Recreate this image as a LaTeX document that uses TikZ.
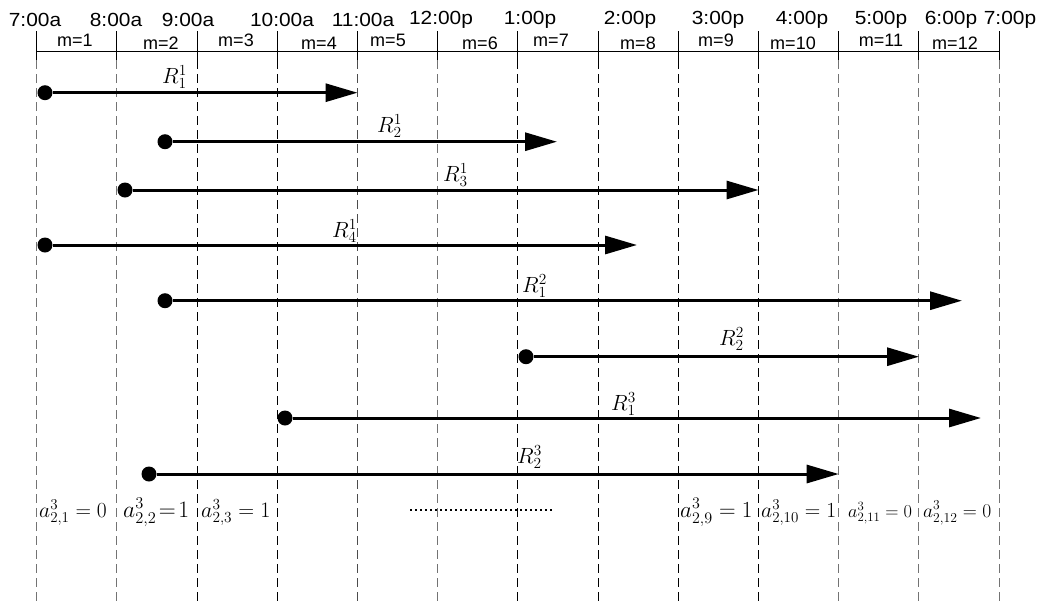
\RequirePackage{fix-cm}
\documentclass[tikz,border=0pt]{standalone}
\usepackage{amsmath}
\usepackage{graphicx}
\usepackage{fontspec}
\newfontfamily\arialfont{Liberation Sans}
\usepackage{tikz}
\usetikzlibrary{arrows.meta}

\tikzset{
  slotline/.style={line width=1pt, dash pattern=on 9pt off 5pt},
  tick/.style={line width=1pt},
  dot/.style={circle, fill=black, inner sep=0pt, minimum size=15pt},
  req/.style={line width=3pt, -{Triangle[length=32pt,width=18pt]}},
  tlab/.style={font=\arialfont\fontsize{19}{21}\selectfont},
  mlab/.style={font=\arialfont\fontsize{18}{20}\selectfont},
  rlab/.style={anchor=base west, inner sep=0pt, font=\fontsize{22}{22}\selectfont},
  alab/.style={anchor=base west, inner sep=0pt, font=\fontsize{#1}{#1}\selectfont},
}

\begin{document}
\begin{tikzpicture}[x=1pt, y=-1pt]
    \useasboundingbox (0,0) rectangle (1039,603);

    % Time slots
    \foreach \i/\c in {0/black!55,1/black!55,2/black,3/black,4/black!70,5/black!55,6/black,
                       7/black,8/black,9/black,10/black!55,11/black!55,12/black!55} {
        \draw[tick] (36.7+80.2*\i,31) -- (36.7+80.2*\i,60);
        \draw[slotline, \c] (36.7+80.2*\i,60) -- (36.7+80.2*\i,603);
    }
    \draw[tick] (36.7,51) -- (999.1,51);

    % Clock times
    \foreach \x/\t [count=\k] in {35/7:00a,116/8:00a,188/9:00a,282/10:00a,363/11:00a,
                                  441/12:00p,530/1:00p,630/2:00p,718/3:00p,802/4:00p,
                                  881/5:00p,951/6:00p,1010/7:00p}
        \node[tlab] (time\k) at (\x,20) {\scalebox{1.1}[1]{\t}};

    % Slot indices
    \foreach \x/\y [count=\m] in {75/40,161/43,236/40,319/43,388/40,480/43,
                                  551/40,638/43,716/40,793/43,881/40,955/43}
        \node[mlab] (slot\m) at (\x,\y) {m=\m};

    % Requests of tenant 1
    \node[dot] (s11) at (45,92.7) {};
    \coordinate (e11) at (357.5,92.7);
    \draw[req] (s11) -- (e11);
    \node[rlab] (r11) at (162,83) {$R_1^1$};

    \node[dot] (s21) at (165,141.7) {};
    \coordinate (e21) at (557,141.7);
    \draw[req] (s21) -- (e21);
    \node[rlab] (r21) at (377,132) {$R_2^1$};

    \node[dot] (s31) at (125,190) {};
    \coordinate (e31) at (758.5,190);
    \draw[req] (s31) -- (e31);
    \node[rlab] (r31) at (443,181) {$R_3^1$};

    \node[dot] (s41) at (45,245) {};
    \coordinate (e41) at (637,245);
    \draw[req] (s41) -- (e41);
    \node[rlab] (r41) at (332,237) {$R_4^1$};

    % Requests of tenant 2
    \node[dot] (s12) at (165,300.7) {};
    \coordinate (e12) at (962,300.7);
    \draw[req] (s12) -- (e12);
    \node[rlab] (r12) at (522,292) {$R_1^2$};

    \node[dot] (s22) at (526,356.7) {};
    \coordinate (e22) at (919,356.7);
    \draw[req] (s22) -- (e22);
    \node[rlab] (r22) at (719,345) {$R_2^2$};

    % Requests of tenant 3
    \node[dot] (s13) at (285,418) {};
    \coordinate (e13) at (981,418);
    \draw[req] (s13) -- (e13);
    \node[rlab] (r13) at (611,410) {$R_1^3$};

    \node[dot] (s23) at (149,474) {};
    \coordinate (e23) at (838.7,474);
    \draw[req] (s23) -- (e23);
    \node[rlab] (r23) at (517,463) {$R_2^3$};

    % Slot indicators of R_2^3
    \node[alab=21.5] (a1) at (39,517) {$a_{2,1}^3 = 0$};
    \node[alab=23.5] (a2) at (123,517) {$a_{2,2}^3\!=\!1$};
    \node[alab=22] (a3) at (201,517) {$a_{2,3}^3 = 1$};
    \draw[line width=2pt, dash pattern=on 2pt off 3pt] (410,510) -- (554,510);
    \node[alab=23] (a9) at (680,517) {$a_{2,9}^3 = 1$};
    \node[alab=21.5] (a10) at (761,517) {$a_{2,10}^3 = 1$};
    \node[alab=18.3] (a11) at (848,517) {$a_{2,11}^3 = 0$};
    \node[alab=19.5] (a12) at (923,517) {$a_{2,12}^3 = 0$};
\end{tikzpicture}
\end{document}
